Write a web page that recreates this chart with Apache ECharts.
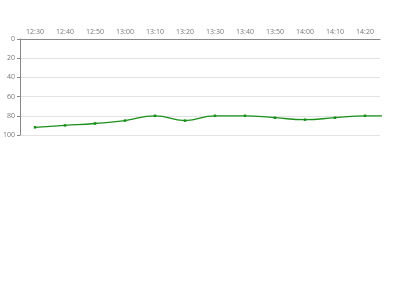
<!DOCTYPE html>
<html><head><meta charset="utf-8">
<script src="https://cdn.jsdelivr.net/npm/echarts@6/dist/echarts.min.js"></script>
<style>html,body{margin:0;padding:0;background:#fff}#c{width:400px;height:300px}</style>
</head><body><div id="c"></div>
<script>
var categories = ['12:30','12:40','12:50','13:00','13:10','13:20','13:30','13:40','13:50','14:00','14:10','14:20'];
var values = [92, 90, 88, 85, 80, 85, 80, 80, 82, 84, 82, 80, 80];
var yTicks = [0, 20, 40, 60, 80, 100];

var chart = echarts.init(document.getElementById('c'));
chart.setOption({
  animation: false,
  grid: {left: 20, right: 20, top: 39, bottom: 165},
  xAxis: {
    type: 'category', position: 'top', data: categories, boundaryGap: true,
    axisLine: {lineStyle: {color: '#888'}},
    axisTick: {lineStyle: {color: '#888'}, length: 3},
    axisLabel: {fontSize: 7, color: '#777', margin: 4, fontFamily: 'Open Sans'},
    splitLine: {show: false}
  },
  yAxis: {
    type: 'value', inverse: true, min: yTicks[0], max: yTicks[yTicks.length-1], interval: 20,
    axisLine: {show: true, lineStyle: {color: '#888'}},
    axisTick: {show: true, length: 3, lineStyle: {color: '#888'}},
    axisLabel: {fontSize: 7, color: '#777', margin: 5, fontFamily: 'Open Sans'},
    splitLine: {lineStyle: {color: '#e2e2e2'}}
  },
  series: [{
    type: 'line', data: values, smooth: true, clip: true,
    symbol: 'rect', symbolSize: 2.5, showAllSymbol: true,
    lineStyle: {color: '#1a8f1a', width: 1.3},
    itemStyle: {color: '#1a8f1a'}
  }]
});
</script></body></html>
